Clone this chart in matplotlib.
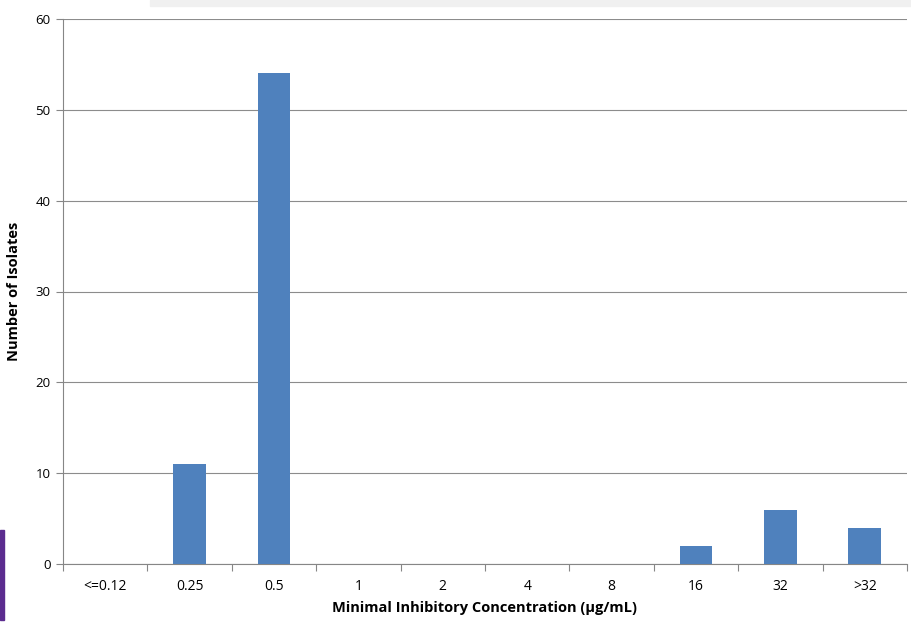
import matplotlib
matplotlib.use("Agg")
import matplotlib.pyplot as plt
from matplotlib.patches import Rectangle
from matplotlib.ticker import FixedLocator

categories = ["<=0.12", "0.25", "0.5", "1", "2", "4", "8", "16", "32", ">32"]
counts = [0, 11, 54, 0, 0, 0, 0, 2, 6, 4]

plt.rcParams['font.family'] = ['Open Sans', 'DejaVu Sans']

fig = plt.figure(figsize=(9.12, 6.25), dpi=100)
ax = fig.add_axes([63/912, 61/625, (907-63)/912, (564-19)/625])

x = list(range(len(categories)))
ax.bar(x, counts, width=0.39, color="#4F81BD", zorder=3)

ax.set_xlim(-0.5, len(categories) - 0.5)
ax.set_ylim(0, 60)
ax.set_yticks(range(0, 61, 10))
ax.yaxis.grid(True, color="#8C8C8C", linewidth=0.8, zorder=0)

ax.set_xticks(x)
ax.set_xticklabels(categories, fontsize=10)
ax.xaxis.set_minor_locator(FixedLocator([i - 0.5 for i in range(len(categories) + 1)]))
ax.tick_params(axis="x", which="major", length=0, pad=11)
ax.tick_params(axis="x", which="minor", length=5, color="#868686", width=0.8)
ax.tick_params(axis="y", length=5, color="#868686", width=0.8, labelsize=9.5, pad=4)

for s in ["top", "right"]:
    ax.spines[s].set_visible(False)
for s in ["left", "bottom"]:
    ax.spines[s].set_color("#868686")
    ax.spines[s].set_linewidth(0.8)

ax.set_xlabel("Minimal Inhibitory Concentration (µg/mL)", fontsize=10.5, fontweight="bold", labelpad=5)
ax.set_ylabel("Number of Isolates", fontsize=10.5, fontweight="bold", labelpad=10)

# decorative background remnants
fig.patches.append(Rectangle((150/912, 619/625), 762/912, 6/625, transform=fig.transFigure,
                             color="#F0F0F0", zorder=0))
fig.patches.append(Rectangle((0, 5/625), 4/912, 90/625, transform=fig.transFigure,
                             color="#5B2C8F", zorder=0))

fig.savefig("out.png", dpi=100)
